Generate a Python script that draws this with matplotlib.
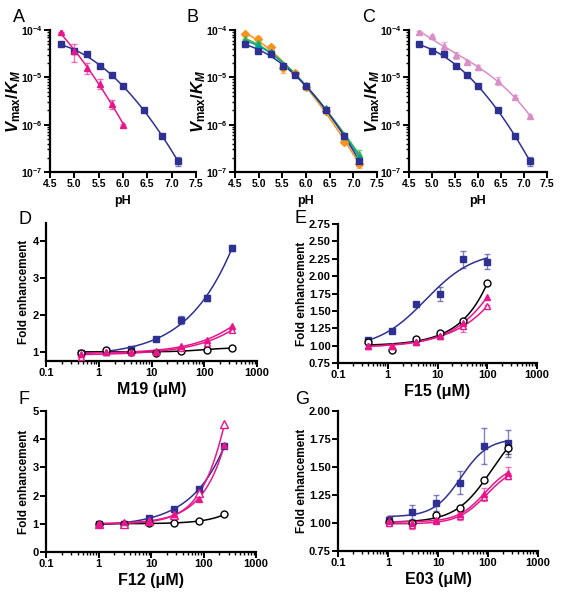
import numpy as np
import matplotlib
matplotlib.use('Agg')
import matplotlib.pyplot as plt
from matplotlib.ticker import FixedLocator, LogLocator, FuncFormatter, NullFormatter

plt.rcParams['font.family'] = ['Liberation Sans', 'DejaVu Sans']
plt.rcParams['font.weight'] = 'bold'
plt.rcParams['mathtext.fontset'] = 'custom'
plt.rcParams['mathtext.rm'] = 'Liberation Sans:bold'
plt.rcParams['mathtext.it'] = 'Liberation Sans:italic:bold'
plt.rcParams['mathtext.bf'] = 'Liberation Sans:bold'
plt.rcParams['mathtext.default'] = 'rm'
plt.rcParams['axes.linewidth'] = 1.6
plt.rcParams['xtick.major.width'] = 1.4
plt.rcParams['ytick.major.width'] = 1.4
plt.rcParams['xtick.minor.width'] = 1.0
plt.rcParams['ytick.minor.width'] = 1.0

BLUE = '#2e3192'
MAGENTA = '#e8168b'
LPINK = '#d98ec6'
ORANGE = '#f7941d'
GREEN = '#3ab54a'
TEAL = '#00a69c'

# ---- pH profiles (A-C) ----
ph = [4.72, 4.99, 5.26, 5.52, 5.77, 6.01, 6.43, 6.80, 7.13]
wt = [5.0e-5, 3.6e-5, 3.1e-5, 1.7e-5, 1.1e-5, 6.5e-6, 2.0e-6, 5.8e-7, 1.7e-7]
wt_err = [2e-6, 2e-6, 2e-6, 1e-6, 5e-7, 3e-7, 1e-7, 4e-8, 3.5e-8]
ph_a = [4.72, 4.99, 5.26, 5.52, 5.77, 6.01]
mut_a = [8.9e-5, 3.6e-5, 1.6e-5, 7.4e-6, 2.7e-6, 9.8e-7]
mut_a_err = [3e-6, 1.5e-5, 4e-6, 1.8e-6, 6e-7, 3e-8]
orange_b = [8.2e-5, 6.4e-5, 4.3e-5, 1.55e-5, 1.26e-5, 6.2e-6, 1.9e-6, 4.4e-7, 1.5e-7]
orange_b_err = [5e-6, 1e-5, 5e-6, 3e-6, 1e-6, 5e-7, 1e-7, 5e-8, 3e-8]
green_b = [6.3e-5, 5.2e-5, 3.5e-5, 1.7e-5, 1.2e-5, 6.9e-6, 2.2e-6, 6.0e-7, 2.4e-7]
green_b_err = [3e-6, 3e-6, 2e-6, 1e-6, 5e-7, 3e-7, 1e-7, 5e-8, 5e-8]
teal_b = [5.7e-5, 4.8e-5, 3.4e-5, 1.8e-5, 1.15e-5, 6.6e-6, 2.1e-6, 5.8e-7, 2.1e-7]
mut_c = [8.9e-5, 7.5e-5, 4.7e-5, 2.96e-5, 2.14e-5, 1.63e-5, 8.5e-6, 3.9e-6, 1.5e-6]
mut_c_err = [8e-6, 3e-6, 1e-5, 5e-6, 1.5e-6, 2e-6, 1.5e-6, 3e-7, 1e-7]

# ---- dose responses (D-G) ----
conc_d = [0.457, 1.37, 4.11, 12.3, 37.0, 111, 333]
d_blue = [0.98, 1.00, 1.07, 1.35, 1.86, 2.46, 3.81]
d_blue_err = [0.03, 0.03, 0.03, 0.04, 0.10, 0.08, 0.08]
d_tri = [0.95, 1.00, 1.00, 1.02, 1.17, 1.32, 1.69]
d_otri = [0.85, 1.00, 1.00, 1.00, 1.10, 1.25, 1.60]
d_circ = [0.97, 1.04, 1.00, 0.98, 1.03, 1.06, 1.10]

conc_e = [0.41, 1.23, 3.70, 11.1, 33.3, 100]
e_blue = [1.08, 1.21, 1.60, 1.74, 2.24, 2.21]
e_blue_err = [0.02, 0.03, 0.03, 0.10, 0.12, 0.11]
e_tri = [1.00, 1.00, 1.05, 1.14, 1.33, 1.70]
e_otri = [1.00, 1.00, 1.05, 1.14, 1.28, 1.57]
e_otri_err = [0.02, 0.02, 0.02, 0.02, 0.08, 0.02]
e_circ = [1.05, 0.94, 1.10, 1.18, 1.36, 1.90]

conc_fg = [1.03, 3.09, 9.26, 27.8, 83.3, 250]
f_blue = [1.00, 1.00, 1.22, 1.53, 2.24, 3.76]
f_tri = [1.00, 1.05, 1.10, 1.35, 1.88, 3.80]
f_otri = [1.00, 1.00, 1.10, 1.30, 2.10, 4.53]
f_circ = [1.00, 1.00, 1.02, 1.03, 1.10, 1.33]

g_blue = [1.025, 1.10, 1.18, 1.36, 1.69, 1.71]
g_blue_err = [0.03, 0.06, 0.07, 0.10, 0.16, 0.12]
g_tri = [1.02, 1.00, 1.03, 1.08, 1.26, 1.45]
g_tri_err = [0.04, 0.02, 0.02, 0.02, 0.05, 0.05]
g_otri = [1.00, 0.98, 1.02, 1.06, 1.23, 1.42]
g_otri_err = [0.03, 0.03, 0.02, 0.03, 0.03, 0.03]
g_circ = [1.01, 1.00, 1.075, 1.13, 1.38, 1.67]
g_circ_err = [0.0, 0.0, 0.0, 0.0, 0.0, 0.05]


def ph_fit(x, y, deg=3):
    x = np.asarray(x)
    c = np.polyfit(x, np.log10(y), deg)
    xs = np.linspace(x.min(), x.max(), 200)
    return xs, 10 ** np.polyval(c, xs)


def hill_fit(x, y):
    x = np.asarray(x, float)
    y = np.asarray(y, float)
    best = None
    for n in np.linspace(0.5, 2.5, 21):
        for k in np.logspace(-1, 4.5, 160):
            f = x ** n / (k ** n + x ** n)
            A = np.column_stack([np.ones_like(f), f])
            coef = np.linalg.lstsq(A, y, rcond=None)[0]
            err = np.sum((A @ coef - y) ** 2)
            if best is None or err < best[0]:
                best = (err, n, k, coef)
    _, n, k, coef = best
    xs = np.logspace(np.log10(x.min()), np.log10(x.max()), 200)
    f = xs ** n / (k ** n + xs ** n)
    return xs, coef[0] + coef[1] * f


def series(ax, x, y, color, marker, fit, yerr=None, filled=True, ms=5, lw=1.1):
    xs, ys = fit(x, y)
    ax.plot(xs, ys, color=color, lw=lw, zorder=2)
    if yerr is not None:
        ax.errorbar(x, y, yerr=yerr, fmt='none', ecolor=color, alpha=0.6,
                    elinewidth=1.0, capsize=2.5, capthick=1.0, zorder=3)
    ax.plot(x, y, linestyle='none', marker=marker, ms=ms, color=color,
            mfc=color if filled else 'white', mec=color, mew=1.0, zorder=4)


def style(ax, size):
    for s in ['top', 'right']:
        ax.spines[s].set_visible(False)
    ax.tick_params(which='major', length=4, labelsize=size, pad=1.2)
    ax.tick_params(which='minor', length=2.5)
    for lab in ax.get_xticklabels() + ax.get_yticklabels():
        lab.set_fontweight('bold')


def ph_axes(ax, ylab_x):
    ax.set_yscale('log')
    ax.set_xlim(4.5, 7.5)
    ax.set_ylim(1e-7, 1e-4)
    ax.xaxis.set_major_locator(FixedLocator([4.5, 5.0, 5.5, 6.0, 6.5, 7.0, 7.5]))
    ax.xaxis.set_major_formatter(FuncFormatter(lambda v, p: '%.1f' % v))
    ax.yaxis.set_major_locator(FixedLocator([1e-7, 1e-6, 1e-5, 1e-4]))
    ax.yaxis.set_major_formatter(FuncFormatter(
        lambda v, p: r'$10^{%d}$' % int(round(np.log10(v)))))
    ax.yaxis.set_minor_locator(LogLocator(base=10, subs=np.arange(2, 10)))
    ax.yaxis.set_minor_formatter(NullFormatter())
    ax.set_xlabel('pH', fontsize=9, fontweight='bold', labelpad=4)
    ax.set_ylabel(r'$\mathit{V}_{max}/\mathit{K}_{\mathit{M}}$', fontsize=12)
    ax.yaxis.set_label_coords(ylab_x, 0.5)
    style(ax, 7.5)


def dose_axes(ax, xlabel, ylim, yticks, yfmt, ylab_x):
    ax.set_xscale('log')
    ax.set_xlim(0.1, 1000)
    ax.set_ylim(*ylim)
    ax.xaxis.set_major_locator(FixedLocator([0.1, 1, 10, 100, 1000]))
    ax.xaxis.set_major_formatter(FuncFormatter(lambda v, p: '%g' % v))
    ax.xaxis.set_minor_locator(LogLocator(base=10, subs=np.arange(2, 10)))
    ax.xaxis.set_minor_formatter(NullFormatter())
    ax.yaxis.set_major_locator(FixedLocator(yticks))
    ax.yaxis.set_major_formatter(FuncFormatter(lambda v, p: yfmt % v))
    ax.set_xlabel(xlabel, fontsize=11.5, fontweight='bold', labelpad=3)
    ax.set_ylabel('Fold enhancement', fontsize=8.5, fontweight='bold')
    ax.yaxis.set_label_coords(ylab_x, 0.5)
    style(ax, 8)


fig = plt.figure(figsize=(5.63, 6.0), dpi=100)

def rect(x0, y0, x1, y1):
    return [x0 / 563, 1 - y1 / 600, (x1 - x0) / 563, (y1 - y0) / 600]

axA = fig.add_axes(rect(50, 30, 196, 172))
axB = fig.add_axes(rect(235, 30, 377, 172))
axC = fig.add_axes(rect(409, 30, 547, 172))
axD = fig.add_axes(rect(46, 223, 257, 361))
axE = fig.add_axes(rect(338, 224, 537, 363))
axF = fig.add_axes(rect(46, 411, 256, 552))
axG = fig.add_axes(rect(338, 411, 538, 551))

# A
series(axA, ph, wt, BLUE, 's', ph_fit, wt_err)
series(axA, ph_a, mut_a, MAGENTA, '^', lambda x, y: ph_fit(x, y, 2), mut_a_err)
ph_axes(axA, -0.185)

# B
series(axB, ph, orange_b, ORANGE, 'D', ph_fit, orange_b_err, ms=4)
series(axB, ph, green_b, GREEN, '^', ph_fit, green_b_err)
series(axB, ph, teal_b, TEAL, '^', ph_fit)
series(axB, ph, wt, BLUE, 's', ph_fit, wt_err)
ph_axes(axB, -0.19)

# C
series(axC, ph, mut_c, LPINK, '^', ph_fit, mut_c_err)
series(axC, ph, wt, BLUE, 's', ph_fit, wt_err)
ph_axes(axC, -0.195)

# D
series(axD, conc_d, d_blue, BLUE, 's', hill_fit, d_blue_err)
series(axD, conc_d, d_circ, 'black', 'o', hill_fit, filled=False)
series(axD, conc_d, d_otri, MAGENTA, '^', hill_fit, filled=False)
series(axD, conc_d, d_tri, MAGENTA, '^', hill_fit)
dose_axes(axD, 'M19 (μM)', (0.75, 4.5), [1, 2, 3, 4], '%d', -0.075)

# E
series(axE, conc_e, e_blue, BLUE, 's', hill_fit, e_blue_err)
series(axE, conc_e, e_circ, 'black', 'o', hill_fit, filled=False)
series(axE, conc_e, e_otri, MAGENTA, '^', hill_fit, e_otri_err, filled=False)
series(axE, conc_e, e_tri, MAGENTA, '^', hill_fit)
dose_axes(axE, 'F15 (μM)', (0.75, 2.75), np.arange(0.75, 2.76, 0.25), '%.2f', -0.15)

# F
series(axF, conc_fg, f_blue, BLUE, 's', hill_fit)
series(axF, conc_fg, f_circ, 'black', 'o', hill_fit, filled=False)
series(axF, conc_fg, f_otri, MAGENTA, '^', hill_fit, filled=False, ms=6)
series(axF, conc_fg, f_tri, MAGENTA, '^', hill_fit)
dose_axes(axF, 'F12 (μM)', (0, 5), [0, 1, 2, 3, 4, 5], '%d', -0.075)

# G
series(axG, conc_fg, g_blue, BLUE, 's', hill_fit, g_blue_err)
series(axG, conc_fg, g_circ, 'black', 'o', hill_fit, g_circ_err, filled=False)
series(axG, conc_fg, g_otri, MAGENTA, '^', hill_fit, g_otri_err, filled=False)
series(axG, conc_fg, g_tri, MAGENTA, '^', hill_fit, g_tri_err)
dose_axes(axG, 'E03 (μM)', (0.75, 2.0), [0.75, 1.0, 1.25, 1.5, 1.75, 2.0], '%.2f', -0.15)

# panel letters
for letter, (px, py) in {'A': (13, 22), 'B': (186, 22), 'C': (362, 22),
                         'D': (19, 224), 'E': (295, 223), 'F': (19, 404),
                         'G': (295, 404)}.items():
    fig.text(px / 563, 1 - py / 600, letter, fontsize=13, fontweight='normal',
             ha='left', va='baseline')

fig.savefig('out.png', dpi=100)
